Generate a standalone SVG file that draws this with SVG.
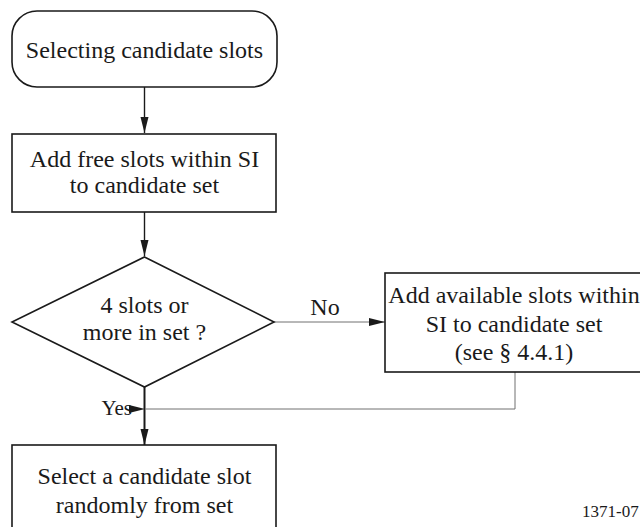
<svg xmlns="http://www.w3.org/2000/svg" width="640" height="527" viewBox="0 0 640 527">
<style>
.box{fill:#fff;stroke:#1a1a1a;stroke-width:1.6}
.t{font-family:'Liberation Serif','Times New Roman',serif;font-size:24px;fill:#1a1a1a;text-anchor:middle}
.flow{fill:none;stroke:#1a1a1a;stroke-width:1.4}
.thin{fill:none;stroke:#707070;stroke-width:1}
</style>
<defs>
<marker id="ah" markerUnits="userSpaceOnUse" markerWidth="18" markerHeight="10" refX="16" refY="4" orient="auto">
<path d="M0,0 L16,4 L0,8 z" fill="#1a1a1a"/>
</marker>
</defs>
<rect width="640" height="527" fill="#fff"/>
<g id="connectors">
<path class="flow" d="M144.5,87 V133" marker-end="url(#ah)"/>
<path class="flow" d="M144.5,212 V256" marker-end="url(#ah)"/>
<path class="flow" style="stroke-width:2" d="M144.5,387 V445" marker-end="url(#ah)"/>
<path class="thin" d="M274,322 H385" marker-end="url(#ah)"/>
<path class="thin" d="M145,409 H515 V372" marker-start="url(#ah)"/>
<text class="t" x="325" y="315">No</text>
<text class="t" x="132" y="415" style="text-anchor:end;font-size:21px">Yes</text>
</g>
<g id="start">
<rect class="box" x="12" y="11" width="265" height="76" rx="25" ry="25"/>
<text class="t" x="144.5" y="58">Selecting candidate slots</text>
</g>
<g id="addFree">
<rect class="box" x="12" y="134" width="264" height="78"/>
<text class="t" x="144.5" y="167">Add free slots within SI</text>
<text class="t" x="144.5" y="193">to candidate set</text>
</g>
<g id="decision">
<polygon class="box" points="144.5,257 274,322 144.5,387 12,322"/>
<text class="t" x="144.5" y="313">4 slots or</text>
<text class="t" x="144.5" y="340">more in set ?</text>
</g>
<g id="addAvailable">
<rect class="box" x="385" y="273" width="260" height="99"/>
<text class="t" x="514" y="303">Add available slots within</text>
<text class="t" x="514" y="332">SI to candidate set</text>
<text class="t" x="514" y="360">(see § 4.4.1)</text>
</g>
<g id="select">
<rect class="box" x="12" y="445" width="264" height="100"/>
<text class="t" x="144.5" y="484">Select a candidate slot</text>
<text class="t" x="144.5" y="513">randomly from set</text>
</g>
<text class="t" x="582" y="517" style="text-anchor:start;font-size:17px">1371-07</text>
</svg>
